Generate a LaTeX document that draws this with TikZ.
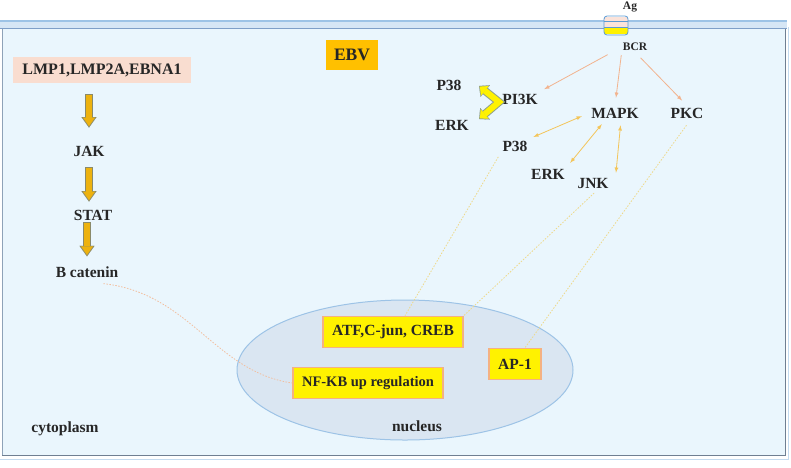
\documentclass[tikz,border=0pt]{standalone}
\usepackage{fontspec}
\setmainfont{Liberation Serif}
\usetikzlibrary{arrows.meta, shapes.geometric}

\definecolor{cellbg}{HTML}{EAF6FD}
\definecolor{mema}{HTML}{9DC3E6}
\definecolor{memb}{HTML}{D6E6F5}
\definecolor{memc}{HTML}{7F9FC8}
\definecolor{framegrey}{HTML}{8EA2B8}
\definecolor{framedark}{HTML}{6F7F92}
\definecolor{nucfill}{HTML}{DAE6F2}
\definecolor{nucline}{HTML}{9DC3E6}
\definecolor{ebvfill}{HTML}{FFC000}
\definecolor{lmpfill}{HTML}{F9DDD0}
\definecolor{boxline}{HTML}{F4B183}
\definecolor{salmon}{HTML}{F2B38E}
\definecolor{gold}{HTML}{F3C55A}
\definecolor{paleline}{HTML}{EED98A}
\definecolor{pinkline}{HTML}{F2BFA0}
\definecolor{arrowgold}{HTML}{EDB20F}
\definecolor{arrowline}{HTML}{8A8A6A}
\definecolor{chevline}{HTML}{8FA08A}
\definecolor{txt}{HTML}{262626}
\definecolor{recpink}{HTML}{FBE3DA}
\definecolor{recline}{HTML}{5B9BD5}

\begin{document}
\begin{tikzpicture}[x=1pt, y=-1pt, >=latex,
  lbl/.style={font=\bfseries\fontsize{15.5}{18}\selectfont, text=txt, inner sep=2pt},
  small/.style={font=\bfseries\fontsize{11.5}{13}\selectfont, text=txt, inner sep=1pt},
  factor/.style={lbl, fill=yellow, draw=boxline, line width=1.6pt, inner xsep=9pt, minimum height=31pt},
  bcrarrow/.style={->, draw=salmon, line width=.8pt},
  mapkarrow/.style={<->, draw=gold, line width=.8pt},
  signal/.style={draw=paleline, line width=.8pt, dash pattern=on 1.5pt off 1.5pt},
  fatedge/.style={draw=arrowline, line width=7.5pt, -{Triangle[length=10.5pt, width=15pt, line width=.1pt]}},
  fatcore/.style={draw=arrowgold, line width=5.5pt, -{Triangle[length=8.5pt, width=12pt, line width=.1pt]}},
  chevedge/.style={draw=chevline, line width=8pt, line join=miter,
    {Triangle[length=8pt, width=15pt, line width=.1pt]}-{Triangle[length=8pt, width=15pt, line width=.1pt]}},
  chevcore/.style={draw=yellow, line width=6pt, line join=miter,
    {Triangle[length=6.5pt, width=12pt, line width=.1pt]}-{Triangle[length=6.5pt, width=12pt, line width=.1pt]},
    shorten <=1pt, shorten >=1pt}]
  \useasboundingbox (0,0) rectangle (791,467);
  % cell
  \fill [cellbg] (2,27) rectangle (786,456);
  \draw [mema!60, line width=1pt] (0,459.5) -- (788.5,459.5) -- (788.5,27);
  \draw [framegrey, line width=1pt] (2.5,27) -- (2.5,456);
  \draw [framedark, line width=1.6pt] (2,455.5) -- (785.5,455.5) -- (785.5,27);
  \fill [memb] (0,20.5) rectangle (787,28.5);
  \draw [mema, line width=1.2pt] (0,21) -- (787,21);
  \draw [memc, line width=1.2pt] (0,28.5) -- (787,28.5);
  % receptor
  \fill [recpink] (604,17) rectangle (628,27);
  \fill [yellow] (604,27) rectangle (628,34);
  \draw [recline, line width=.8pt, rounded corners=3pt] (604,16) rectangle (628,35);
  \draw [recline, line width=.6pt] (604,21) -- (628,21);
  \draw [recline, line width=.6pt] (604,27) -- (628,27);
  \node [small] (ag) at (630,7) {Ag};
  \node [small] (bcr) at (635,47) {BCR};
  % nucleus
  \node [ellipse, fill=nucfill, draw=nucline, line width=1pt,
    minimum width=336pt, minimum height=140pt] (nuc) at (405,370) {};
  \node [lbl] (nuclbl) at (417,426) {nucleus};
  \node [lbl] (cyto) at (65,429) {cytoplasm};
  % labels
  \node [lbl, fill=ebvfill, font=\bfseries\fontsize{17.5}{20}\selectfont,
    inner xsep=8pt, minimum height=30pt] (ebv) at (352,55) {EBV};
  \node [lbl, fill=lmpfill, font=\bfseries\fontsize{16}{19}\selectfont,
    inner xsep=9pt, minimum height=26pt] (lmp) at (102,70) {LMP1,LMP2A,EBNA1};
  \node [lbl] (jak) at (89,151) {JAK};
  \node [lbl] (stat) at (93,215) {STAT};
  \node [lbl] (bcat) at (87,272) {B catenin};
  \node [lbl] (p38a) at (449,85) {P38};
  \node [lbl] (erka) at (452,125) {ERK};
  \node [lbl] (pi3k) at (520,99) {PI3K};
  \node [lbl] (mapk) at (615,113) {MAPK};
  \node [lbl] (pkc) at (687,113) {PKC};
  \node [lbl] (p38b) at (515,146) {P38};
  \node [lbl] (erkb) at (548,174) {ERK};
  \node [lbl] (jnk) at (593,183) {JNK};
  % nuclear factors
  \node [factor] (atf) at (393,332) {ATF,C-jun, CREB};
  \node [factor, font=\bfseries\fontsize{14.5}{17}\selectfont] (nfkb) at (368,383) {NF-KB up regulation};
  \node [factor] (ap1) at (515,364) {AP-1};
  % JAK/STAT
  \draw [fatedge, shorten <=11pt, shorten >=16pt] (jak |- lmp.south) -- (jak.north);
  \draw [fatcore, shorten <=12pt, shorten >=17.5pt] (jak |- lmp.south) -- (jak.north);
  \draw [fatedge, shorten <=9pt, shorten >=6pt] (jak.south) -- (jak.south |- stat.north);
  \draw [fatcore, shorten <=10pt, shorten >=7.5pt] (jak.south) -- (jak.south |- stat.north);
  \draw [fatedge, shorten <=0pt, shorten >=8pt] (stat.south -| bcat) -- (bcat.north);
  \draw [fatcore, shorten <=1pt, shorten >=9.5pt] (stat.south -| bcat) -- (bcat.north);
  % PI3K
  \coordinate (chevtop) at (479,86);
  \coordinate (chevtip) at (499,102);
  \coordinate (chevbot) at (479,119);
  \draw [chevedge] (chevtop) -- (chevtip) -- (chevbot);
  \draw [chevcore] (chevtop) -- (chevtip) -- (chevbot);
  % BCR
  \draw [bcrarrow, shorten <=16pt, shorten >=5pt] (bcr.west) -- (pi3k.north east);
  \draw [bcrarrow, shorten <=3pt, shorten >=8pt] (bcr.south west) -- (mapk.north);
  \draw [bcrarrow, shorten <=8pt, shorten >=7pt] (bcr.south) -- (pkc.north);
  % MAPK
  \draw [mapkarrow, shorten <=8pt, shorten >=4pt] (mapk.west) -- (p38b.north east);
  \draw [mapkarrow, shorten <=5pt, shorten >=5pt] ([xshift=-10pt]mapk.south) -- (erkb.north east);
  \draw [mapkarrow, shorten <=5pt, shorten >=3pt] ([xshift=6pt]mapk.south) -- ([xshift=5pt]jnk.north east);
  % to nucleus
  \draw [signal, shorten <=4pt] (p38b.south west) -- ([xshift=12pt]atf.north);
  \draw [signal, shorten <=4pt] ([xshift=4pt]jnk.south) -- (atf.north east);
  \draw [signal, shorten <=6pt] ([xshift=3pt]pkc.south) -- ([xshift=10pt]ap1.north);
  \draw [signal, draw=pinkline] ([xshift=-17pt, yshift=-4pt]bcat.south east)
    .. controls (190,293) and (215,372) .. (nfkb.west);
\end{tikzpicture}
\end{document}
